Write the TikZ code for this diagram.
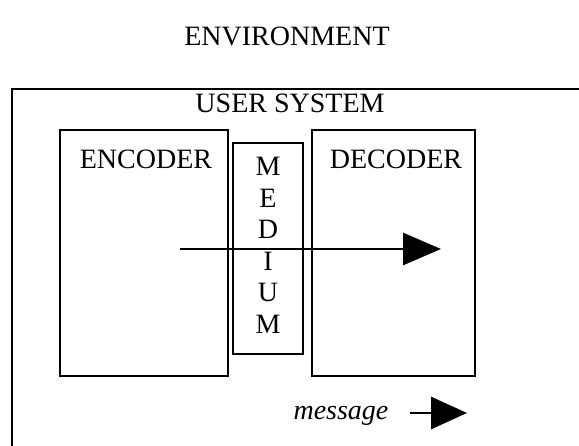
\documentclass[tikz,border=0pt]{standalone}
\usepackage{fontspec}
\setmainfont{Liberation Serif}
\usetikzlibrary{arrows.meta}
\tikzset{
  frame/.style={draw=black, line width=2.8pt, inner sep=0pt, outer sep=0pt},
  lbl/.style={font=\fontsize{28}{31}\selectfont, inner sep=0pt, anchor=base},
  flow/.style={line width=2.8pt, -{Triangle[length=38pt,width=32pt]}},
}
\begin{document}
\begin{tikzpicture}[x=1pt,y=-1pt]
  \useasboundingbox (0,0) rectangle (579,446);
  \clip (0,0) rectangle (579,446);

  % outer user-system frame (runs off the right and bottom edges)
  \node[frame, minimum width=600pt, minimum height=380pt, anchor=north west] (sys) at (12,89) {};

  % encoder, medium and decoder boxes
  \node[frame, minimum width=168pt, minimum height=246pt, anchor=north west] (enc) at (60,130) {};
  \node[frame, minimum width=70pt, minimum height=211pt, anchor=north west] (med) at (233,143) {};
  \node[frame, minimum width=163pt, minimum height=246pt, anchor=north west] (dec) at (312,130) {};

  % labels
  \node[lbl] (env) at (287,46) {ENVIRONMENT};
  \node[lbl] (usr) at (290,113) {USER SYSTEM};
  \node[lbl] (enct) at (146,169) {ENCODER};
  \node[lbl] (dect) at (396,169) {DECODER};
  \foreach \ch [count=\i from 0] in {M,E,D,I,U,M}
    \node[lbl] (m\i) at (268,176+31.5*\i) {\ch};

  % message flow from encoder through the medium into the decoder
  \coordinate (src) at (180,249);
  \coordinate (dst) at (441,249);
  \draw[flow] (src) -- (dst);

  % legend
  \node[lbl, font=\fontsize{28}{31}\selectfont\itshape] (msg) at (341,420) {message};
  \coordinate (ls) at (410,413);
  \coordinate (le) at (467,413);
  \draw[flow, -{Triangle[length=36pt,width=32pt]}] (ls) -- (le);
\end{tikzpicture}
\end{document}
